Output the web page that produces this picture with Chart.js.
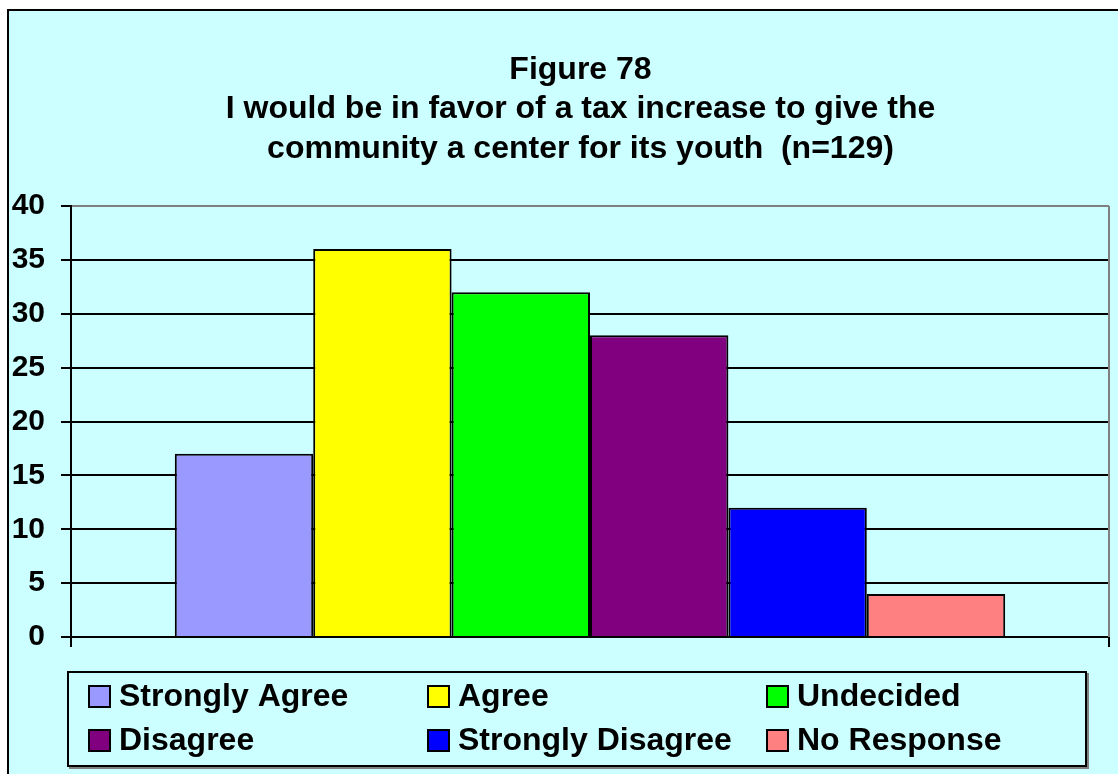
<!DOCTYPE html>
<html>
<head>
<meta charset="utf-8">
<script src="https://cdn.jsdelivr.net/npm/chart.js@4/dist/chart.umd.min.js"></script>
<style>
  html, body { margin: 0; padding: 0; background: #ffffff; }
  #wrap { position: relative; width: 1118px; height: 774px; }
</style>
</head>
<body>
<div id="wrap"><canvas id="c" width="1118" height="774"></canvas></div>
<script>
// Survey responses (n = 129)
const seriesNames = ['Strongly Agree', 'Agree', 'Undecided', 'Disagree', 'Strongly Disagree', 'No Response'];
const seriesValues = [17, 36, 32, 28, 12, 4];
const seriesColors = ['#9999FF', '#FFFF00', '#00FF00', '#800080', '#0000FF', '#FF8080'];
const yTicks = [0, 5, 10, 15, 20, 25, 30, 35, 40];
const titleLines = ['Figure 78', 'I would be in favor of a tax increase to give the', 'community a center for its youth  (n=129)'];

const FONT = "'Liberation Sans', Arial, Helvetica, sans-serif";

// Page frame: cyan panel with a black border
const framePlugin = {
  id: 'frame',
  afterLayout(chart) {
    // centre the title over the whole panel rather than the padded chart box
    const t = chart.titleBlock;
    if (t) { t.left += 26; t.right += 26; }
  },
  beforeDraw(chart) {
    const ctx = chart.ctx;
    ctx.save();
    ctx.fillStyle = '#ffffff';
    ctx.fillRect(0, 0, chart.width, chart.height);
    ctx.fillStyle = '#CCFFFF';
    ctx.fillRect(8, 10, chart.width, chart.height);
    ctx.strokeStyle = '#000000';
    ctx.lineWidth = 2;
    ctx.beginPath();
    ctx.moveTo(8, chart.height + 5);
    ctx.lineTo(8, 10);
    ctx.lineTo(chart.width + 5, 10);
    ctx.stroke();
    ctx.restore();
  },
  afterDatasetsDraw(chart) {
    // gray plot-area edge on the right
    const a = chart.chartArea;
    const ctx = chart.ctx;
    ctx.save();
    ctx.strokeStyle = '#808080';
    ctx.lineWidth = 2;
    ctx.beginPath();
    ctx.moveTo(a.right, a.top);
    ctx.lineTo(a.right, a.bottom);
    ctx.stroke();
    ctx.restore();
  }
};

// Boxed legend in a 3-column grid below the plot
const boxLegendPlugin = {
  id: 'boxLegend',
  afterDraw(chart) {
    const ctx = chart.ctx;
    const bx = 68, by = 672, bw = 1018, bh = 94;
    ctx.save();
    ctx.strokeStyle = '#808080';
    ctx.lineWidth = 2;
    ctx.strokeRect(bx + 2, by + 2, bw, bh);
    ctx.fillStyle = '#CCFFFF';
    ctx.fillRect(bx, by, bw, bh);
    ctx.strokeStyle = '#000000';
    ctx.strokeRect(bx, by, bw, bh);
    const colX = [89, 428, 767];
    const rowY = [696, 740];
    ctx.font = 'bold 32px ' + FONT;
    ctx.textBaseline = 'middle';
    ctx.textAlign = 'left';
    chart.data.datasets.forEach((ds, i) => {
      const x = colX[i % 3];
      const y = rowY[Math.floor(i / 3)];
      ctx.fillStyle = ds.backgroundColor;
      ctx.fillRect(x, y - 10, 21, 21);
      ctx.strokeStyle = '#000000';
      ctx.lineWidth = 2;
      ctx.strokeRect(x, y - 10, 21, 21);
      ctx.fillStyle = '#000000';
      ctx.fillText(ds.label, x + 30, y + 1);
    });
    ctx.restore();
  }
};

const datasets = seriesNames.map((name, i) => ({
  label: name,
  data: [seriesValues[i]],
  backgroundColor: seriesColors[i],
  borderColor: '#000000',
  borderWidth: 2,
  barPercentage: 1.0,
  categoryPercentage: 0.8
}));

new Chart(document.getElementById('c'), {
  type: 'bar',
  data: { labels: [''], datasets },
  plugins: [framePlugin, boxLegendPlugin],
  options: {
    responsive: false,
    animation: false,
    layout: { padding: { left: 0, right: 9, top: 0, bottom: 127 } },
    plugins: {
      legend: { display: false },
      tooltip: { enabled: false },
      title: {
        display: true,
        text: titleLines,
        color: '#000000',
        font: { family: FONT, size: 32, weight: 'bold', lineHeight: '39.5px' },
        padding: { top: 50, bottom: 37.5 }
      }
    },
    scales: {
      x: {
        offset: true,
        grid: {
          offset: true,
          drawOnChartArea: false,
          drawTicks: true,
          tickLength: 10,
          tickColor: '#000000',
          tickWidth: 2,
          color: '#000000',
          lineWidth: 2
        },
        border: { display: true, color: '#000000', width: 2 },
        ticks: { display: false }
      },
      y: {
        min: 0,
        max: 40,
        afterBuildTicks(scale) {
          scale.ticks = yTicks.map(v => ({ value: v }));
        },
        afterFit(scale) { scale.width = 71; },
        grid: {
          color: ctx => (ctx.tick && ctx.tick.value === 40 ? '#808080' : '#000000'),
          lineWidth: 2,
          tickLength: 10,
          tickColor: '#000000',
          tickWidth: 2
        },
        border: { display: true, color: '#000000', width: 2 },
        ticks: {
          color: '#000000',
          padding: 16,
          font: { family: FONT, size: 30, weight: 'bold' }
        }
      }
    }
  }
});
</script>
</body>
</html>
